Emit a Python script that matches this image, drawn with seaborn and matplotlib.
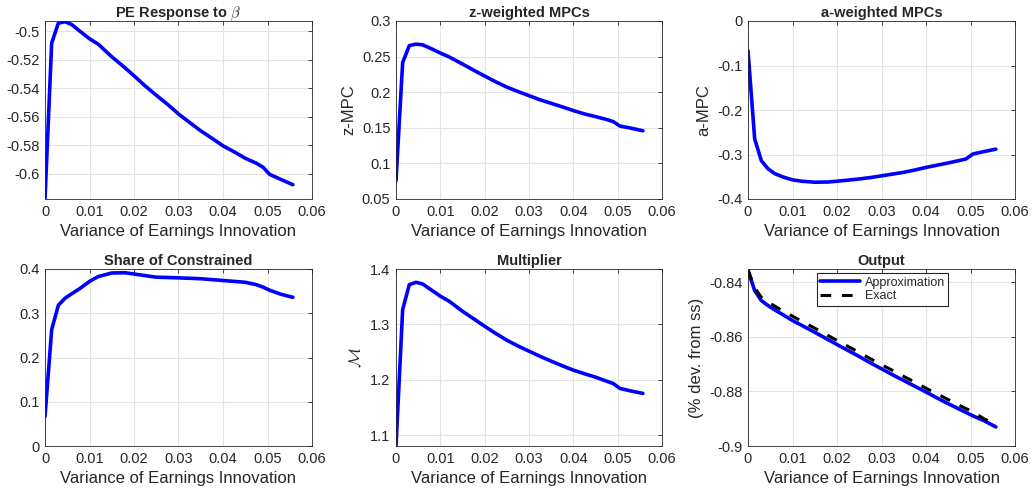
import matplotlib
matplotlib.use("Agg")
import matplotlib.pyplot as plt
import seaborn as sns
import numpy as np
from matplotlib.ticker import FuncFormatter, FixedLocator

# ---------------- data ----------------
variance = [0, 0.0015, 0.003, 0.0045, 0.006, 0.008, 0.01, 0.012, 0.015, 0.018, 0.02,
            0.0225, 0.025, 0.0275, 0.03, 0.0325, 0.035, 0.0375, 0.04, 0.0425, 0.045,
            0.0475, 0.049, 0.0505, 0.053, 0.0557]

pe_response = [-0.6175, -0.5084, -0.4945, -0.4935, -0.4955, -0.5005, -0.5054, -0.5093,
               -0.5180, -0.5258, -0.5313, -0.5384, -0.5449, -0.5512, -0.5580, -0.5640,
               -0.5698, -0.5750, -0.5803, -0.5845, -0.5890, -0.5925, -0.5953, -0.6003,
               -0.6038, -0.6075]

z_mpc = [0.0757, 0.2416, 0.2655, 0.2675, 0.2665, 0.2610, 0.2550, 0.2495, 0.2395, 0.2293,
         0.2227, 0.2146, 0.2071, 0.2010, 0.1951, 0.1893, 0.1844, 0.1794, 0.1742, 0.1695,
         0.1657, 0.1617, 0.1587, 0.1525, 0.1495, 0.1458]

a_mpc = [-0.067, -0.265, -0.314, -0.332, -0.343, -0.351, -0.357, -0.360, -0.3623, -0.3618,
         -0.360, -0.3576, -0.355, -0.3518, -0.348, -0.344, -0.340, -0.3348, -0.329, -0.324,
         -0.319, -0.3135, -0.310, -0.299, -0.2935, -0.288]

share_constrained = [0.0664, 0.263, 0.318, 0.334, 0.344, 0.357, 0.372, 0.383, 0.391, 0.3915,
                     0.3887, 0.385, 0.3815, 0.3808, 0.380, 0.379, 0.378, 0.376, 0.374, 0.372,
                     0.370, 0.3645, 0.359, 0.352, 0.343, 0.336]

multiplier = [1.0808, 1.3268, 1.3718, 1.376, 1.373, 1.362, 1.351, 1.3418, 1.3238, 1.3076,
              1.2968, 1.2837, 1.2716, 1.2612, 1.2518, 1.2425, 1.2338, 1.2255, 1.2176, 1.2111,
              1.205, 1.1977, 1.1935, 1.1846, 1.180, 1.1756]

output_approx = [-0.8357, -0.8430, -0.8467, -0.8485, -0.8501, -0.8520, -0.8540, -0.8557,
                 -0.8583, -0.8610, -0.8628, -0.8650, -0.8672, -0.8695, -0.8717, -0.8739,
                 -0.8760, -0.8781, -0.8802, -0.8824, -0.8845, -0.8865, -0.8877, -0.8889,
                 -0.8907, -0.8930]

output_exact = [-0.8354, -0.8420, -0.8455, -0.8472, -0.8487, -0.8506, -0.8524, -0.8542,
                -0.8568, -0.8595, -0.8613, -0.8635, -0.8657, -0.8680, -0.8702, -0.8723,
                -0.8745, -0.8766, -0.8788, -0.8809, -0.8830, -0.8851, -0.8863, -0.8874,
                -0.8900, -0.8920]

x_ticks = [0, 0.01, 0.02, 0.03, 0.04, 0.05, 0.06]

# ---------------- style ----------------
sns.set_style("white")
plt.rcParams['font.family'] = ['Liberation Sans', 'DejaVu Sans']
plt.rcParams['mathtext.fontset'] = 'cm'

W, H = 1034, 493
fig = plt.figure(figsize=(W / 100, H / 100), dpi=100)

def rect(left, top, width, height):
    return [left / W, 1 - (top + height) / H, width / W, height / H]

col_left = [45, 396, 748]
col_w = [267, 266, 267]
row_top = [21, 269]
row_h = [178, 177]

AX_COL = '#262626'
LINE_BLUE = '#0000ff'
fmt = FuncFormatter(lambda v, p: ('%g' % round(v, 6)))

def make_ax(r, c, y, title, ylim, yticks, ylabel=None):
    ax = fig.add_axes(rect(col_left[c], row_top[r], col_w[c], row_h[r]))
    sns.lineplot(x=variance, y=y, ax=ax, color=LINE_BLUE, linewidth=2.6, sort=False)
    ax.set_xlim(0, 0.06)
    ax.set_ylim(*ylim)
    ax.xaxis.set_major_locator(FixedLocator(x_ticks))
    ax.yaxis.set_major_locator(FixedLocator(yticks))
    ax.xaxis.set_major_formatter(fmt)
    ax.yaxis.set_major_formatter(fmt)
    ax.grid(True, color='#e3e3e3', linewidth=0.8)
    ax.set_axisbelow(True)
    for s in ax.spines.values():
        s.set_color(AX_COL)
        s.set_linewidth(0.6)
        s.set_visible(True)
    ax.tick_params(direction='in', length=3, width=0.6, colors=AX_COL, labelsize=10.5,
                   top=True, right=True, pad=4)
    ax.set_title(title, fontsize=10.5, fontweight='bold', pad=3)
    ax.set_xlabel('Variance of Earnings Innovation', fontsize=12, color=AX_COL, labelpad=4)
    ax.set_ylabel(ylabel if ylabel else '', fontsize=12, color=AX_COL, labelpad=4)
    return ax

make_ax(0, 0, pe_response, r'PE Response to $\beta$', (-0.6175, -0.493),
        [-0.6, -0.58, -0.56, -0.54, -0.52, -0.5])
make_ax(0, 1, z_mpc, 'z-weighted MPCs', (0.05, 0.3),
        [0.05, 0.1, 0.15, 0.2, 0.25, 0.3], 'z-MPC')
make_ax(0, 2, a_mpc, 'a-weighted MPCs', (-0.4, 0),
        [-0.4, -0.3, -0.2, -0.1, 0], 'a-MPC')
make_ax(1, 0, share_constrained, 'Share of Constrained', (0, 0.4),
        [0, 0.1, 0.2, 0.3, 0.4])
make_ax(1, 1, multiplier, 'Multiplier', (1.0808, 1.4),
        [1.1, 1.2, 1.3, 1.4], r'$\mathcal{M}$')
ax6 = make_ax(1, 2, output_approx, 'Output', (-0.9, -0.8351),
              [-0.9, -0.88, -0.86, -0.84], '(% dev. from ss)')
ax6.lines[0].set_label('Approximation')
sns.lineplot(x=variance, y=output_exact, ax=ax6, color='black', linewidth=2.2,
             linestyle=(0, (3.5, 3.5)), label='Exact', sort=False)
leg = ax6.legend(loc='upper left', bbox_to_anchor=(0.258, 0.975), fontsize=9,
                 frameon=True, fancybox=False, framealpha=1, edgecolor=AX_COL,
                 handlelength=3.2, borderpad=0.25, labelspacing=0.15, handletextpad=0.4,
                 borderaxespad=0)
leg.get_frame().set_linewidth(0.8)

fig.savefig('out.png', dpi=100, facecolor='white')
